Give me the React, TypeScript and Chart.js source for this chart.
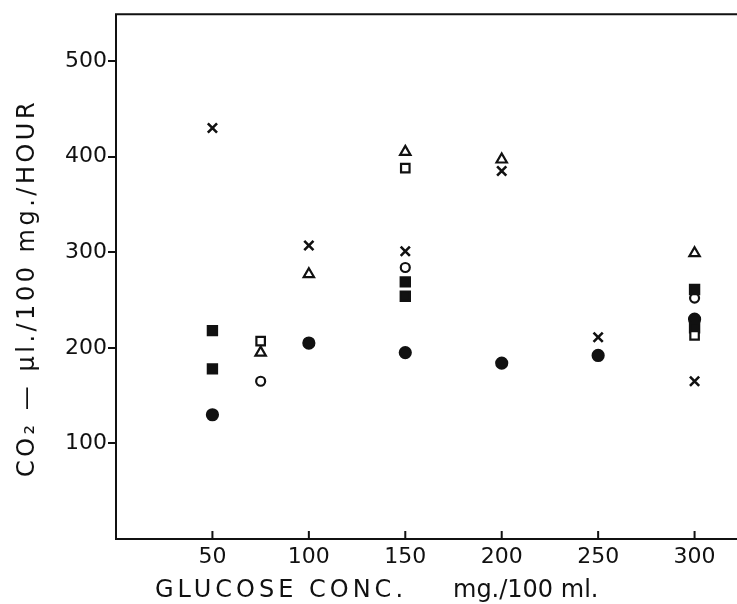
import React, { useEffect, useRef } from 'react';
import { Chart, registerables } from 'chart.js';

Chart.register(...registerables);

// Glucose concentration (mg./100 ml.) axis ticks and CO2 output axis ticks
const xTickValues = [50, 100, 150, 200, 250, 300];
const yTickValues = [100, 200, 300, 400, 500];

// × marks
const crossX = [50, 100, 150, 200, 250, 300];
const crossY = [430, 307, 301, 385, 211, 165];
// open triangles
const triX = [75, 100, 150, 200, 300];
const triY = [195, 277, 405, 397, 299];
// open squares
const openSqX = [75, 150, 300];
const openSqY = [207, 388, 213];
// filled squares
const fillSqX = [50, 50, 150, 150, 300, 300];
const fillSqY = [218, 178, 269, 254, 261, 221];
// open circles
const openCircX = [75, 150, 300];
const openCircY = [165, 284, 252];
// filled circles
const fillCircX = [50, 100, 150, 200, 250, 300];
const fillCircY = [130, 205, 195, 184, 192, 230];

const FONT = '"DejaVu Sans", "Liberation Sans", sans-serif';
const INK = '#111';

const pts = (xs: number[], ys: number[]) => xs.map((x, i) => ({ x, y: ys[i] }));

const framePlugin = {
  id: 'frame',
  afterDraw(chart: any) {
    const { ctx, chartArea, width } = chart;
    const xs = chart.scales.x;
    const { left, top, bottom } = chartArea;
    ctx.save();
    ctx.strokeStyle = INK;
    ctx.lineWidth = 2;
    ctx.beginPath();
    ctx.moveTo(width, top);
    ctx.lineTo(left, top);
    ctx.lineTo(left, bottom);
    ctx.lineTo(width, bottom);
    ctx.stroke();
    // inward tick marks on the glucose axis
    ctx.beginPath();
    xTickValues.forEach((v) => {
      const px = xs.getPixelForValue(v);
      ctx.moveTo(px, bottom);
      ctx.lineTo(px, bottom - 8);
    });
    ctx.stroke();

    ctx.fillStyle = INK;
    // vertical axis title
    ctx.font = `24px ${FONT}`;
    ctx.textAlign = 'center';
    ctx.textBaseline = 'middle';
    (ctx as any).letterSpacing = '3.5px';
    ctx.translate(28, 288);
    ctx.rotate(-Math.PI / 2);
    ctx.fillText('CO₂ — μl./100 mg./HOUR', 0, 0);
    ctx.restore();

    // horizontal axis title
    ctx.save();
    ctx.fillStyle = INK;
    ctx.font = `24px ${FONT}`;
    ctx.textAlign = 'left';
    ctx.textBaseline = 'alphabetic';
    (ctx as any).letterSpacing = '4px';
    ctx.fillText('GLUCOSE CONC.', 155, 597);
    (ctx as any).letterSpacing = '0px';
    ctx.fillText('mg./100 ml.', 453, 597);
    ctx.restore();
  },
};

export default function App() {
  const ref = useRef<HTMLCanvasElement | null>(null);

  useEffect(() => {
    if (!ref.current) return;
    const common = { borderColor: INK, borderWidth: 2.2, pointHoverRadius: 6 };
    const chart = new Chart(ref.current, {
      type: 'scatter',
      data: {
        datasets: [
          { ...common, label: 'x', data: pts(crossX, crossY), pointStyle: 'crossRot', pointRadius: 6.5, backgroundColor: INK, borderWidth: 2.6 },
          { ...common, label: 'tri', data: pts(triX, triY), pointStyle: 'triangle', pointRadius: 6, backgroundColor: '#fff' },
          { ...common, label: 'osq', data: pts(openSqX, openSqY), pointStyle: 'rect', pointRadius: 6, backgroundColor: '#fff' },
          { ...common, label: 'fsq', data: pts(fillSqX, fillSqY), pointStyle: 'rect', pointRadius: 6.5, backgroundColor: INK },
          { ...common, label: 'oc', data: pts(openCircX, openCircY), pointStyle: 'circle', pointRadius: 4.5, backgroundColor: '#fff' },
          { ...common, label: 'fc', data: pts(fillCircX, fillCircY), pointStyle: 'circle', pointRadius: 5.5, backgroundColor: INK },
        ],
      },
      options: {
        animation: false,
        responsive: false,
        maintainAspectRatio: false,
        layout: { autoPadding: false, padding: { top: 14, right: 0, left: 0, bottom: 0 } },
        plugins: { legend: { display: false }, tooltip: { enabled: false } },
        scales: {
          x: {
            type: 'linear',
            min: 0,
            max: 322,
            afterBuildTicks: (s: any) => { s.ticks = xTickValues.map((v) => ({ value: v })); },
            afterFit: (s: any) => { s.height = 604 - 539; },
            grid: { display: false, drawTicks: false },
            border: { display: false },
            ticks: { color: INK, padding: 5, font: { family: FONT, size: 22 }, maxRotation: 0 },
          },
          y: {
            type: 'linear',
            min: 0,
            max: 549,
            afterBuildTicks: (s: any) => { s.ticks = yTickValues.map((v) => ({ value: v })); },
            afterFit: (s: any) => { s.width = 116; },
            grid: { display: true, drawOnChartArea: false, drawTicks: true, tickLength: 8, color: INK, lineWidth: 2 },
            border: { display: false },
            ticks: { color: INK, padding: 1, font: { family: FONT, size: 22 } },
          },
        },
      },
      plugins: [framePlugin],
    });
    return () => chart.destroy();
  }, []);

  return (
    <div style={{ position: 'fixed', left: 0, top: 0, width: 737, height: 604, background: '#fff' }}>
      <canvas ref={ref} width={737} height={604} style={{ display: 'block' }} />
    </div>
  );
}
